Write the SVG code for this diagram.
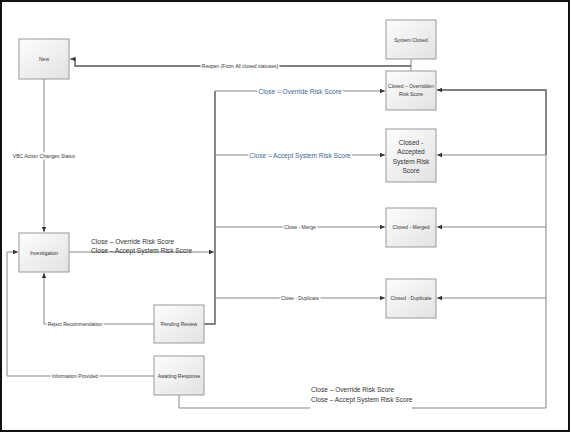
<svg xmlns="http://www.w3.org/2000/svg" width="571" height="433" viewBox="0 0 571 433">
<style>
.box{fill:url(#g);stroke:#9a9a9a;stroke-width:1}
.ln{fill:none;stroke:#858585;stroke-width:1}
.lk{fill:none;stroke:#555;stroke-width:1.4}
.t{font-family:"Liberation Sans",Arial,sans-serif;fill:#333;text-anchor:middle;dominant-baseline:central}
.s{font-size:5px}
.m{font-size:6.6px}
.b{fill:#3d6891}
.lb{stroke:#fff;stroke-width:3;paint-order:stroke}
</style>
<defs>
<linearGradient id="g" x1="0" y1="0" x2="1" y2="1">
<stop offset="0" stop-color="#fdfdfd"/>
<stop offset="1" stop-color="#e2e2e2"/>
</linearGradient>
<marker id="a" markerUnits="userSpaceOnUse" markerWidth="6" markerHeight="6" viewBox="0 0 6 6" refX="5" refY="3" orient="auto">
<path d="M0,0.8 L5,3 L0,5.2 Z" fill="#333"/>
</marker>
</defs>
<rect x="1" y="1" width="568" height="430" fill="#fff" stroke="#111" stroke-width="2"/>
<g id="connectors">
<path class="ln" d="M411,59 V71"/>
<path class="lk" d="M411,66 H75 V59 H70.5" marker-end="url(#a)"/>
<path class="ln" d="M44,79 V232" marker-end="url(#a)"/>
<path class="ln" d="M69,252 H214" marker-end="url(#a)"/>
<path class="lk" d="M204,324 H215 V91"/>
<path class="ln" d="M215,91 H385" marker-end="url(#a)"/>
<path class="ln" d="M215,155 H385" marker-end="url(#a)"/>
<path class="ln" d="M215,227 H385" marker-end="url(#a)"/>
<path class="ln" d="M215,298 H385" marker-end="url(#a)"/>
<path class="ln" d="M154,324 H44 V273" marker-end="url(#a)"/>
<path class="ln" d="M154,376 H7 V252 H18" marker-end="url(#a)"/>
<path class="ln" d="M179,395 V408 H310"/>
<path class="ln" d="M412,408 H546 V155"/>
<path class="lk" d="M546,155 V90 H437" marker-end="url(#a)"/>
<path class="ln" d="M546,155 H437" marker-end="url(#a)"/>
<path class="ln" d="M546,227 H437" marker-end="url(#a)"/>
<path class="ln" d="M546,298 H437" marker-end="url(#a)"/>
<text class="t s lb" x="240" y="66">Reopen (From All closed statuses)</text>
<text class="t s lb" x="44" y="156">VBC Action Changes Status</text>
<text class="t m" x="91" y="241" text-anchor="start" style="text-anchor:start">Close – Override Risk Score</text>
<text class="t m" x="91" y="250" style="text-anchor:start">Close – Accept System Risk Sccre</text>
<text class="t m b lb" x="300" y="91">Close – Override Risk Score</text>
<text class="t m b lb" x="300" y="155">Close – Accept System Risk Score</text>
<text class="t s lb" x="300" y="227">Close - Merge</text>
<text class="t s lb" x="300" y="298">Close - Duplicate</text>
<text class="t s lb" x="75" y="324">Reject Recommendation</text>
<text class="t s lb" x="75" y="376">Information Provided</text>
<text class="t m" x="311" y="389" style="text-anchor:start">Close – Override Risk Score</text>
<text class="t m" x="311" y="399" style="text-anchor:start">Close – Accept System Risk Score</text>
</g>
<g id="new"><rect class="box" x="19" y="39" width="50" height="40"/><text class="t s" x="44" y="59">New</text></g>
<g id="investigation"><rect class="box" x="19" y="233" width="50" height="39"/><text class="t s" x="44" y="253">Investigation</text></g>
<g id="pending-review"><rect class="box" x="154" y="305" width="50" height="38"/><text class="t s" x="179" y="324">Pending Review</text></g>
<g id="awaiting-response"><rect class="box" x="154" y="356" width="50" height="39"/><text class="t s" x="179" y="376">Awaiting Response</text></g>
<g id="system-closed"><rect class="box" x="386" y="20" width="50" height="39"/><text class="t s" x="411" y="40">System Closed</text></g>
<g id="closed-overridden"><rect class="box" x="386" y="71" width="50" height="39"/><text class="t s" x="411" y="86">Closed – Overridden</text><text class="t s" x="411" y="94">Risk Score</text></g>
<g id="closed-accepted"><rect class="box" x="386" y="129" width="50" height="53"/><text class="t m" x="411" y="142">Closed -</text><text class="t m" x="411" y="151.5">Accepted</text><text class="t m" x="411" y="161">System Risk</text><text class="t m" x="411" y="170.5">Score</text></g>
<g id="closed-merged"><rect class="box" x="386" y="208" width="50" height="39"/><text class="t s" x="411" y="227">Closed - Merged</text></g>
<g id="closed-duplicate"><rect class="box" x="386" y="279" width="50" height="39"/><text class="t s" x="411" y="298">Closed - Duplicate</text></g>
</svg>
